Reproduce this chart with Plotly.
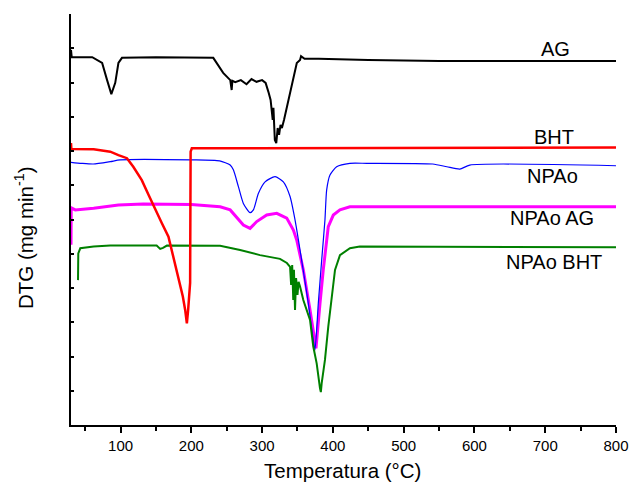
import plotly.graph_objects as go

# --- DTG curves (temperature in °C, DTG in stacked/offset arbitrary units) ---
ag_t = [30, 31, 60, 74, 81, 87, 92.5, 97, 102, 150, 231, 245, 255, 257, 258, 262,
        270, 278, 285, 292, 300, 305, 309, 312, 315, 316, 318, 320, 322, 324, 326,
        328, 331, 335, 342, 349, 353.6, 355, 360, 380, 450, 550, 800]
ag_y = [10.95, 10.74, 10.74, 10.57, 10.07, 9.66, 9.99, 10.57, 10.72, 10.74, 10.72,
        10.28, 10.07, 9.78, 10.05, 10.01, 10.07, 9.95, 10.10, 10.02, 10.07, 9.99,
        9.72, 9.49, 8.91, 9.26, 8.32, 8.23, 8.67, 8.47, 8.76, 8.67, 8.91, 9.28,
        9.99, 10.57, 10.66, 10.77, 10.69, 10.69, 10.66, 10.63, 10.63]

bht_t = [30, 30.5, 62, 85.5, 97, 109, 118, 130, 139.5, 149, 158.4, 167.7, 174.8,
         181.8, 188, 191.3, 193.7, 195.5, 197.4, 198.3, 199, 200.7, 800]
bht_y = [8.23, 8.06, 8.05, 7.98, 7.88, 7.79, 7.54, 7.15, 6.72, 6.28, 5.89, 5.50,
         4.91, 4.33, 3.75, 3.36, 2.97, 3.36, 3.75, 4.15, 7.98, 8.08, 8.10]

npao_t = [30, 45, 61.5, 85.5, 99.6, 200, 240, 254.9, 259.4, 266.5, 273.5, 283,
          287.7, 294.7, 304.2, 318.3, 330, 339.5, 346.5, 353.6, 365.3, 372.3,
          374.7, 379.4, 384.2, 388.8, 391.2, 395.9, 405.3, 424, 448, 541, 561,
          579.3, 593.4, 800]
npao_y = [7.67, 7.64, 7.62, 7.69, 7.74, 7.74, 7.71, 7.59, 7.45, 6.96, 6.47, 6.20,
          6.28, 6.76, 7.10, 7.25, 7.10, 6.67, 5.99, 5.11, 3.55, 2.48, 2.19, 3.55,
          4.82, 5.99, 6.86, 7.30, 7.54, 7.64, 7.64, 7.62, 7.54, 7.47, 7.59, 7.57]

npao_ag_t = [30, 30.3, 36, 62, 97, 132, 200, 240.7, 254.9, 264.3, 273.5, 283,
             292.4, 306.5, 320.7, 334.8, 344.2, 348.9, 358.2, 367.7, 374.7, 376.1,
             381.8, 386.4, 393.5, 400.6, 410, 424, 800]
npao_ag_y = [5.26, 6.34, 6.28, 6.33, 6.42, 6.45, 6.44, 6.37, 6.28, 6.04, 5.84, 5.74,
             5.94, 6.13, 6.18, 6.04, 5.69, 5.40, 4.53, 3.36, 2.39, 2.24, 3.55, 4.53,
             5.79, 6.13, 6.28, 6.37, 6.37]

npao_bht_t = [39.9, 40.3, 43.1, 62, 85.5, 151, 156, 160, 165.5, 240.7, 268.9, 297,
              325.3, 335, 339.5, 341, 342.5, 344, 345, 346.5, 348, 350, 351.5, 353.6,
              358.2, 367.7, 372.3, 377.1, 381.8, 383, 384.2, 388.8, 393.5, 398.3,
              403, 410, 424.1, 438, 800]
npao_bht_y = [4.23, 5.01, 5.16, 5.21, 5.24, 5.24, 5.14, 5.17, 5.24, 5.23, 5.11, 4.96,
              4.85, 4.73, 4.62, 4.09, 4.67, 3.65, 4.53, 3.36, 4.29, 3.80, 4.18, 4.04,
              3.65, 3.07, 2.29, 1.80, 1.07, 0.96, 1.22, 1.90, 2.87, 3.75, 4.53, 4.96,
              5.16, 5.21, 5.19]

# curve labels placed at the right-hand side of each trace
label_text = ["AG", "BHT", "NPAo", "NPAo AG", "NPAo BHT"]
label_t = [714.8, 712, 710.5, 709, 713]
label_y = [10.98, 8.41, 7.27, 6.04, 4.76]

FONT = "Arial, Liberation Sans, sans-serif"

fig = go.Figure()
fig.add_trace(go.Scatter(x=ag_t, y=ag_y, mode="lines",
                         line=dict(color="#000000", width=2)))
fig.add_trace(go.Scatter(x=npao_ag_t, y=npao_ag_y, mode="lines",
                         line=dict(color="#ff00ff", width=3)))
fig.add_trace(go.Scatter(x=npao_t, y=npao_y, mode="lines",
                         line=dict(color="#0000ff", width=1.2, shape="spline",
                                   smoothing=0.6)))
fig.add_trace(go.Scatter(x=npao_bht_t, y=npao_bht_y, mode="lines",
                         line=dict(color="#008000", width=2)))
fig.add_trace(go.Scatter(x=bht_t, y=bht_y, mode="lines",
                         line=dict(color="#ff0000", width=2.5)))

for txt, tx, ty in zip(label_text, label_t, label_y):
    fig.add_annotation(x=tx, y=ty, xref="x", yref="y", text=txt, showarrow=False,
                       xanchor="center", yanchor="middle",
                       font=dict(family=FONT, size=20, color="#000000"))

# axis titles
fig.add_annotation(x=0.499, y=-0.1095, xref="paper", yref="paper",
                   text="Temperatura (°C)", showarrow=False,
                   xanchor="center", yanchor="middle",
                   font=dict(family=FONT, size=20.5, color="#000000"))
fig.add_annotation(x=-0.0862, y=0.455, xref="paper", yref="paper",
                   text="DTG (mg min<sup>-1</sup>)", showarrow=False, textangle=-90,
                   xanchor="center", yanchor="middle",
                   font=dict(family=FONT, size=20.5, color="#000000"))

fig.update_layout(
    width=631, height=488,
    margin=dict(l=71, r=15, t=14, b=63, autoexpand=False),
    paper_bgcolor="white", plot_bgcolor="white",
    showlegend=False,
    font=dict(family=FONT, color="#000000"),
    xaxis=dict(range=[30, 800], tick0=0, dtick=100, ticks="outside", ticklen=6,
               tickwidth=1.5, tickcolor="#000000", showline=True, linecolor="#000000",
               linewidth=2, showgrid=False, zeroline=False, automargin=False,
               tickfont=dict(family=FONT, size=15, color="#000000"),
               minor=dict(ticks="outside", ticklen=4, tickwidth=1.5,
                          tickcolor="#000000", tick0=0, dtick=50, showgrid=False)),
    yaxis=dict(range=[0, 12], tick0=0, dtick=1, ticks="inside", ticklen=3,
               tickwidth=1.5, tickcolor="#000000", showticklabels=False,
               showline=True, linecolor="#000000", linewidth=2, showgrid=False,
               zeroline=False, automargin=False),
)

fig.write_html("out.html")
